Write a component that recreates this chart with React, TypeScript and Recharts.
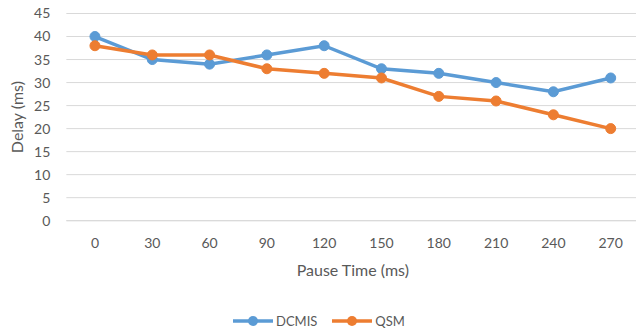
import React from 'react';
import { LineChart, Line, XAxis, YAxis, CartesianGrid } from 'recharts';

const pauseTimes = ['0', '30', '60', '90', '120', '150', '180', '210', '240', '270'];
const dcmis = [40, 35, 34, 36, 38, 33, 32, 30, 28, 31];
const qsm = [38, 36, 36, 33, 32, 31, 27, 26, 23, 20];
const yTicks = [0, 5, 10, 15, 20, 25, 30, 35, 40, 45];

const data = pauseTimes.map((t, i) => ({ t, DCMIS: dcmis[i], QSM: qsm[i] }));

const BLUE = '#5B9BD5';
const ORANGE = '#ED7D31';
const TEXT = '#595959';
const FONT = 'Lato, "Noto Sans", sans-serif';

const legendItems = [
  { name: 'DCMIS', color: BLUE },
  { name: 'QSM', color: ORANGE },
];

const LegendBox = () => (
  <div
    style={{
      position: 'absolute',
      top: 314,
      left: 232,
      display: 'flex',
      alignItems: 'center',
      fontFamily: FONT,
      fontSize: 13,
      color: TEXT,
      lineHeight: '14px',
    }}
  >
    {legendItems.map((it) => (
      <div key={it.name} style={{ display: 'flex', alignItems: 'center', marginRight: 14 }}>
        <svg width={42} height={12}>
          <line x1={1} y1={6} x2={41} y2={6} stroke={it.color} strokeWidth={3.5} />
          <circle cx={21} cy={6} r={5} fill={it.color} />
        </svg>
        <span style={{ marginLeft: 2 }}>{it.name}</span>
      </div>
    ))}
  </div>
);

export default function App() {
  return (
    <div
      style={{
        position: 'fixed',
        top: 0,
        left: 0,
        width: 636,
        height: 330,
        overflow: 'hidden',
        background: '#fff',
      }}
    >
      <LineChart
        width={640}
        height={330}
        data={data}
        margin={{ top: 13.5, right: 0.7, left: 0, bottom: 0 }}
      >
        <CartesianGrid vertical={false} stroke="#D9D9D9" strokeWidth={1} />
        <XAxis
          dataKey="t"
          height={109.3}
          padding={{ left: 28.6, right: 28.6 }}
          tickLine={false}
          axisLine={{ stroke: '#D9D9D9' }}
          tickSize={0}
          tickMargin={17}
          interval={0}
          tick={{ fill: TEXT, fontSize: 14, fontFamily: FONT }}
          label={{
            content: (props: any) => {
              const vb = props.viewBox || {};
              return (
                <text
                  x={vb.x + vb.width / 2}
                  y={vb.y + 55}
                  textAnchor="middle"
                  fill={TEXT}
                  fontSize={16}
                  fontFamily={FONT}
                >
                  Pause Time (ms)
                </text>
              );
            },
          }}
        />
        <YAxis
          width={66.35}
          domain={[0, 45]}
          ticks={yTicks}
          interval={0}
          tickLine={false}
          axisLine={false}
          tickSize={0}
          tickMargin={16}
          tick={{ fill: TEXT, fontSize: 14, fontFamily: FONT }}
          label={{
            content: (props: any) => {
              const vb = props.viewBox || {};
              const cx = 23;
              const cy = vb.y + vb.height / 2;
              return (
                <text
                  x={cx}
                  y={cy}
                  transform={`rotate(-90, ${cx}, ${cy})`}
                  textAnchor="middle"
                  fill={TEXT}
                  fontSize={16}
                  fontFamily={FONT}
                >
                  Delay (ms)
                </text>
              );
            },
          }}
        />
        <Line
          type="linear"
          dataKey="DCMIS"
          stroke={BLUE}
          strokeWidth={3.5}
          dot={{ r: 5, fill: BLUE, stroke: BLUE, strokeWidth: 1 }}
          activeDot={false}
          isAnimationActive={false}
        />
        <Line
          type="linear"
          dataKey="QSM"
          stroke={ORANGE}
          strokeWidth={3.5}
          dot={{ r: 5, fill: ORANGE, stroke: ORANGE, strokeWidth: 1 }}
          activeDot={false}
          isAnimationActive={false}
        />
      </LineChart>
      <LegendBox />
    </div>
  );
}
